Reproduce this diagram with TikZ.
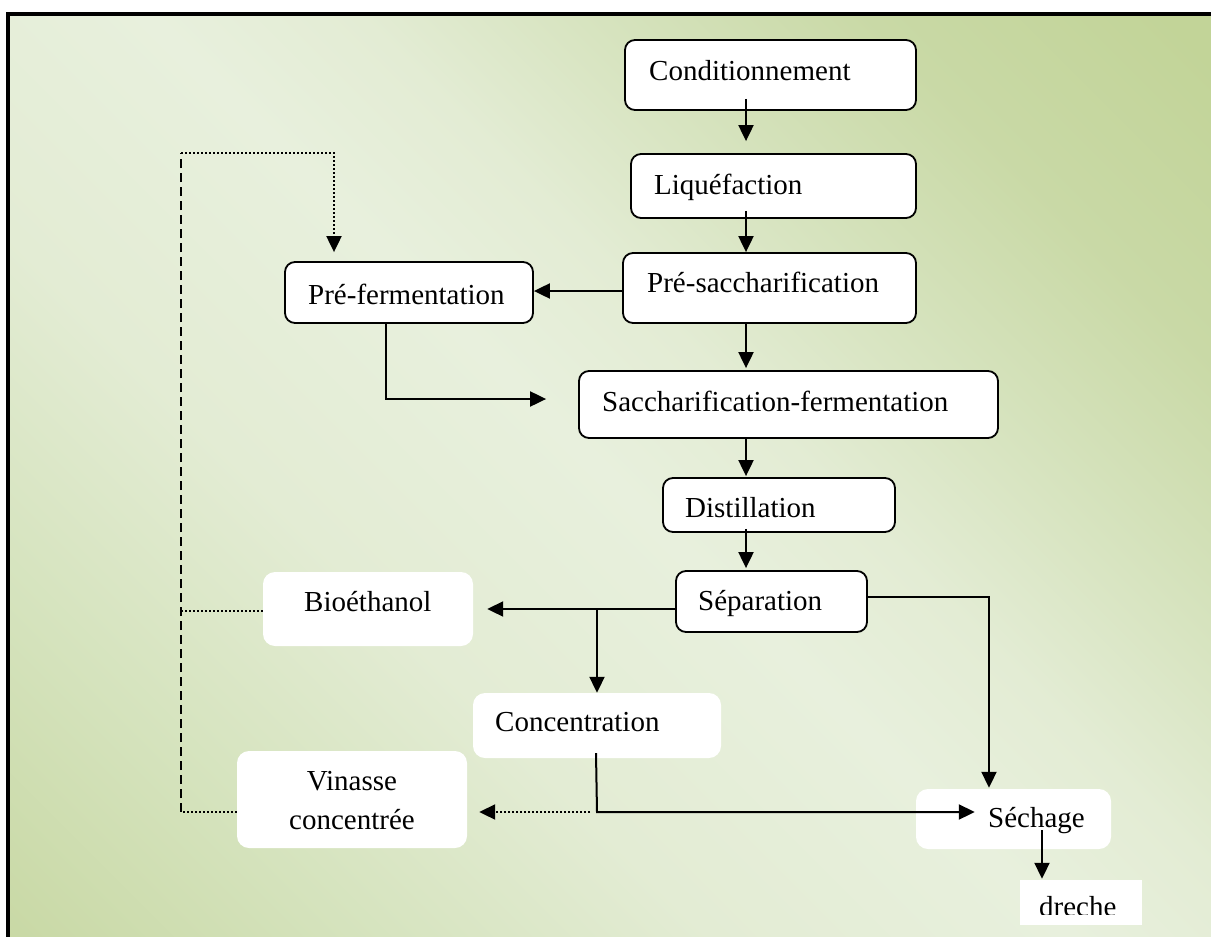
\documentclass[tikz,border=0pt]{standalone}
\usepackage{fontspec}
\setmainfont{Liberation Serif}
\usetikzlibrary{arrows.meta,calc}

% background wash colours, from the lower-left corner to the upper-right corner
\definecolor{bgA}{HTML}{C3D59B}
\definecolor{bgB}{HTML}{C8D8A4}
\definecolor{bgC}{HTML}{D5E3BD}
\definecolor{bgD}{HTML}{E3ECD4}
\definecolor{bgE}{HTML}{E8F0DD}
\definecolor{bgF}{HTML}{E3ECD4}
\definecolor{bgG}{HTML}{D6E3BE}
\definecolor{bgH}{HTML}{C9D9A6}
\definecolor{bgI}{HTML}{C2D498}

\pgfdeclarehorizontalshading{greenwash}{100bp}{%
  color(0bp)=(bgA); color(14bp)=(bgB); color(26bp)=(bgC); color(38bp)=(bgD);
  color(50bp)=(bgE); color(57bp)=(bgF); color(65bp)=(bgG); color(74bp)=(bgH);
  color(84bp)=(bgI); color(100bp)=(bgI)}

\tikzset{
  stepbox/.style={draw=black, line width=1.8pt, fill=white, rounded corners=10pt, inner sep=0pt},
  plainbox/.style={fill=white, rounded corners=12pt, inner sep=0pt},
  sizebox/.style 2 args={minimum width=#1pt, minimum height=#2pt},
  lbl/.style={inner sep=0pt, anchor=base west, font=\fontsize{29}{35}\selectfont},
  clbl/.style={lbl, anchor=base},
  tip/.style={-{Triangle[length=16pt,width=15pt]}},
  flow/.style={line width=2pt, tip},
  dotline/.style={line width=2pt, dash pattern=on 2pt off 2pt},
  dashline/.style={line width=2pt, dash pattern=on 9pt off 5pt},
}

\begin{document}
\begin{tikzpicture}[x=1pt, y=-1pt]
\useasboundingbox (0,0) rectangle (1211,937);
\clip (0,0) rectangle (1211,937);

% page frame with its gradient fill
\shade[shading=greenwash, shading angle=45] (8,14) rectangle (1211,937);
\draw[line width=4pt] (8,14) rectangle (1240,960);

% process steps (outlined)
\node[stepbox, sizebox={291}{70}]  (cond)  at (770.5,75)   {};
\node[stepbox, sizebox={285}{64}]  (liq)   at (773.5,186)  {};
\node[stepbox, sizebox={293}{70}]  (psac)  at (769.5,288)  {};
\node[stepbox, sizebox={248}{61}]  (pferm) at (409,292.5)  {};
\node[stepbox, sizebox={419}{67}]  (sacch) at (788.5,404.5){};
\node[stepbox, sizebox={232}{54}]  (dist)  at (779,505)    {};
\node[stepbox, sizebox={191}{61}]  (sep)   at (771.5,601.5){};

% products and downstream steps (plain white)
\node[plainbox, sizebox={210}{74}] (bio)   at (368,609)    {};
\node[plainbox, sizebox={248}{65}] (conc)  at (597,725.5)  {};
\node[plainbox, sizebox={230}{97}] (vin)   at (352,799.5)  {};
\node[plainbox, sizebox={195}{60}] (sech)  at (1013.5,819) {};
\node[fill=white, inner sep=0pt, sizebox={122}{45}] (dreche) at (1081,902.5) {};

% helper points
\coordinate (spine)  at (746,0);
\coordinate (pfbend) at (386,399);
\coordinate (fork)   at (597,609);
\coordinate (concout) at (597,812);
\coordinate (loopx)  at (181,153);
\coordinate (looptop) at (334,153);

% main line
\draw[flow] ($(cond.south -| spine)+(0,-12)$) -- ($(liq.north -| spine)+(0,-12)$);
\draw[flow] ($(liq.south -| spine)+(0,-8)$) -- (psac.north -| spine);
\draw[flow] ([yshift=-3pt]psac.west) -- ([yshift=-3pt]psac.west -| pferm.east);
\draw[flow] (psac.south -| spine) -- ($(sacch.north -| spine)+(0,-2)$);
\draw[flow] (pferm.south -| pfbend) -- (pfbend) -- ($(pfbend -| sacch.west)+(-32,0)$);
\draw[flow] (sacch.south -| spine) -- ($(dist.north -| spine)+(0,-1)$);
\draw[flow] ($(dist.south -| spine)+(0,-4)$) -- ($(sep.north -| spine)+(0,-2)$);

% separation outputs
\draw[flow] ([yshift=-7.5pt]sep.west) -- ($([yshift=-7.5pt]sep.west -| bio.east)+(14,0)$);
\draw[flow] (fork) -- (conc.north);
\draw[flow] ([yshift=4.5pt]sep.east) -| ($(sech.north)+(-24.5,-1)$);
\draw[flow] ($(conc.south)+(-1,-5)$) -- (concout) -- ($(concout -| sech.west)+(59,0)$);
\draw[dotline, tip] ($(concout)+(-7,0)$) -- ($(concout -| vin.east)+(12,0)$);
\draw[flow] ($(sech.south)+(28.5,-19)$) -- ($(dreche.north)+(-39,-1)$);

% recycle loop back to pre-fermentation
\draw[dotline] (vin.west |- concout) -- (concout -| loopx);
\draw[dotline] ([yshift=-2pt]bio.west) -- ([yshift=-2pt]bio.west -| loopx);
\draw[dashline] (concout -| loopx) -- (loopx);
\draw[dotline, tip] (loopx) -- (looptop) -- ($(pferm.north -| looptop)+(0,-9)$);

% labels
\node[lbl] (cond-t)  at (649,80.7)  {Conditionnement};
\node[lbl] (liq-t)   at (654,194.3) {Liquéfaction};
\node[lbl] (psac-t)  at (647,292)   {Pré-saccharification};
\node[lbl] (pferm-t) at (308,304)   {Pré-fermentation};
\node[lbl] (sacch-t) at (602,411)   {Saccharification-fermentation};
\node[lbl] (dist-t)  at (685,517)   {Distillation};
\node[lbl] (sep-t)   at (698,610)   {Séparation};
\node[lbl] (bio-t)   at (304,611.7) {Bioéthanol};
\node[lbl] (conc-t)  at (495,731.7) {Concentration};
\node[clbl] (vin-t1) at (352,790.7) {Vinasse};
\node[clbl] (vin-t2) at (352,829)   {concentrée};
\node[lbl] (sech-t)  at (988,827)   {Séchage};
\begin{scope}
  \clip (dreche.north west) rectangle ($(dreche.south east)+(0,-11)$);
  \node[lbl] (dreche-t) at (1039,916) {dreche};
\end{scope}
\end{tikzpicture}
\end{document}
